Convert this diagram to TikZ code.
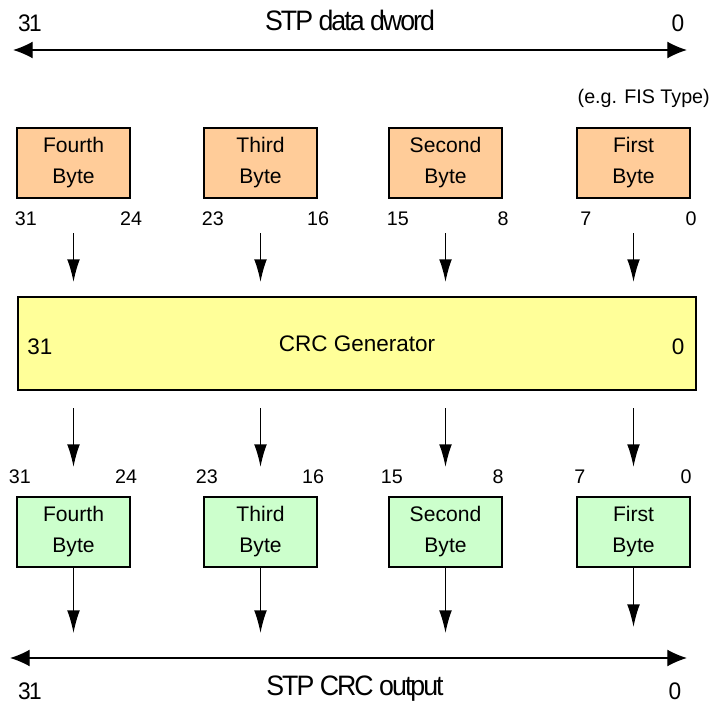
\documentclass[tikz,border=0pt]{standalone}
\usepackage{fontspec}
\setmainfont{Liberation Sans}
\newfontfamily\narrowfont{Liberation Sans}[LetterSpace=-7, FakeStretch=0.95]
\usetikzlibrary{arrows.meta}

\definecolor{inorange}{HTML}{FFCC99}
\definecolor{outgreen}{HTML}{CCFFCC}
\definecolor{crcyellow}{HTML}{FFFF99}

\tikzset{
	bytebox/.style={draw, line width=1.5pt, minimum width=2.825cm, minimum height=1.75cm,
		inner sep=0pt, align=center, font=\fontsize{15}{22}\selectfont},
	bitnum/.style={inner sep=0pt, font=\fontsize{14}{16}\selectfont},
	busnum/.style={inner sep=0pt, font=\narrowfont\fontsize{17}{20}\selectfont},
	title/.style={inner sep=0pt, font=\narrowfont\fontsize{20}{22}\selectfont},
	flow/.style={-{Latex[length=16pt,width=9pt]}, line width=0.9pt},
	bus/.style={{Latex[length=14pt,width=12pt]}-{Latex[length=14pt,width=12pt]}, line width=0.9pt},
}

\begin{document}
\begin{tikzpicture}[x=0.025cm, y=-0.025cm]
	\useasboundingbox (0,0) rectangle (710,709);

	% dword on top
	\coordinate (dwL) at (13,50);
	\coordinate (dwR) at (687,50);
	\draw[bus] (dwL) -- (dwR);
	\node[title] (dwname) at (350,20) {STP data dword};
	\node[busnum] (dwhi) at (30,23) {31};
	\node[busnum] (dwlo) at (678,23) {0};
	\node[bitnum, anchor=east] (fistype) at (710,98) {(e.g. FIS Type)};

	% generator
	\node[draw, fill=crcyellow, line width=1.5pt, minimum width=16.95cm, minimum height=2.325cm,
		font=\fontsize{16}{18}\selectfont] (crc) at (357,343.5) {CRC Generator};
	\node[bitnum, font=\fontsize{16}{18}\selectfont] (crchi) at (40,347) {31};
	\node[bitnum, font=\fontsize{16}{18}\selectfont] (crclo) at (678,347) {0};

	% CRC output
	\coordinate (outL) at (10,658);
	\coordinate (outR) at (687,658);
	\draw[bus] (outL) -- (outR);
	\node[title] (outname) at (355,689) {STP CRC output};
	\node[busnum] (outhi) at (30,691) {31};
	\node[busnum] (outlo) at (675,691) {0};

	\foreach \i/\x/\bname/\bhi/\blo/\gap in {4/73.5/Fourth/31/24/0.625cm, 3/260.5/Third/23/16/0.625cm,
			2/445.5/Second/15/8/0.625cm, 1/633.5/First/7/0/0.775cm} {
		\node[bytebox, fill=inorange] (in\i) at (\x,163) {\bname\\Byte};
		\path (in\i.south west) ++(10,20) node[bitnum] (inhi\i) {\bhi};
		\path (in\i.south east) ++(0,20) node[bitnum] (inlo\i) {\blo};
		\draw[flow, shorten <=0.85cm, shorten >=0.35cm] (in\i.south) -- (in\i.south |- crc.north);

		\node[bytebox, fill=outgreen] (out\i) at (\x,532) {\bname\\Byte};
		\path (out\i.north west) ++(4,-19) node[bitnum] (outhi\i) {\bhi};
		\path (out\i.north east) ++(-5,-19) node[bitnum] (outlo\i) {\blo};
		\draw[flow, shorten <=0.425cm, shorten >=0.725cm] (out\i.north |- crc.south) -- (out\i.north);
		\draw[flow, shorten >=\gap] (out\i.south) -- (out\i.south |- outL);
	}
\end{tikzpicture}
\end{document}
